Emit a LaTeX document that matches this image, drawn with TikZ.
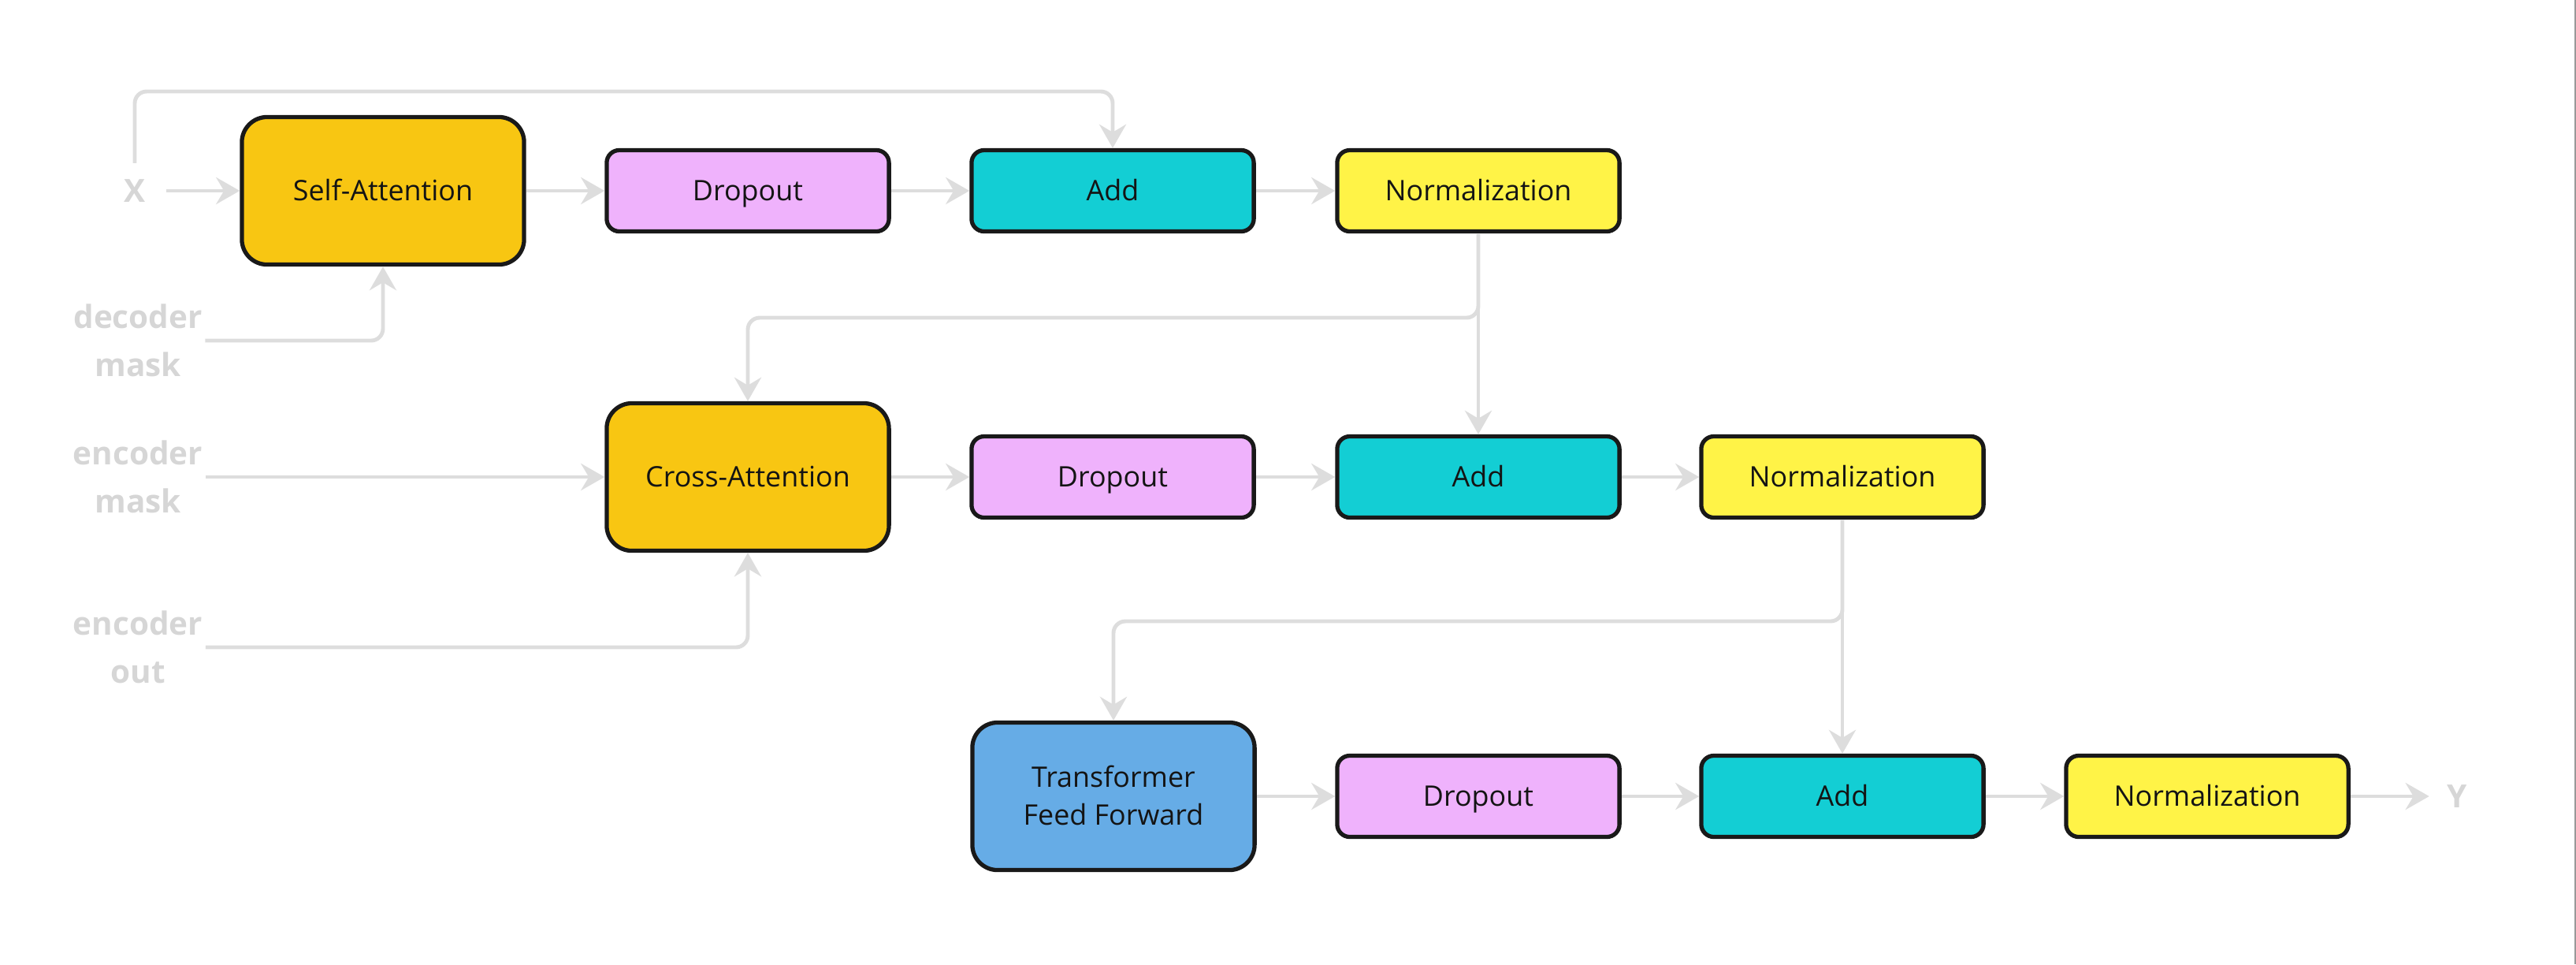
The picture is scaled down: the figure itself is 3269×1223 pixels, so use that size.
\documentclass[tikz,border=0pt]{standalone}
\usepackage{fontspec}
\setmainfont{Open Sans}
\usetikzlibrary{arrows.meta}
\definecolor{attn}{HTML}{F8C612}
\definecolor{drop}{HTML}{EFB2FC}
\definecolor{addc}{HTML}{13CED4}
\definecolor{norm}{HTML}{FFF347}
\definecolor{ffc}{HTML}{66ACE6}
\definecolor{lineg}{HTML}{DDDDDD}
\definecolor{labelg}{HTML}{D6D6D6}
\definecolor{edgeg}{HTML}{999999}
\begin{document}
\begin{tikzpicture}[x=0.01cm,y=-0.01cm,
  box/.style={draw=black!90, line width=1.5pt, text=black!92,
    font=\fontsize{10.2}{13.7}\selectfont, align=center, inner sep=0pt,
    text height=0.72em, text depth=0pt},
  bigbox/.style={box, minimum width=3.58cm, minimum height=1.87cm, rounded corners=0.32cm},
  smallbox/.style={box, minimum width=3.58cm, minimum height=1.03cm, rounded corners=0.16cm},
  conn/.style={draw=lineg, line width=1.4pt, rounded corners=0.15cm,
    -{Stealth[length=0.3cm,width=0.34cm,inset=0.1cm,fill=lineg]}},
  lbl/.style={text=labelg, font=\fontsize{11.5}{17.3}\selectfont\bfseries, align=center, inner sep=0pt}]
\useasboundingbox (0,0) rectangle (3269,1223);

% boxes
\node[bigbox, fill=attn] (SA) at (486,242) {Self-Attention};
\node[smallbox, fill=drop] (D1) at (949,242) {Dropout};
\node[smallbox, fill=addc] (A1) at (1412,242) {Add};
\node[smallbox, fill=norm] (N1) at (1876,242) {Normalization};

\node[bigbox, fill=attn] (CA) at (949,605) {Cross-Attention};
\node[smallbox, fill=drop] (D2) at (1412,605) {Dropout};
\node[smallbox, fill=addc] (A2) at (1876,605) {Add};
\node[smallbox, fill=norm] (N2) at (2338,605) {Normalization};

\node[bigbox, fill=ffc, text height=21pt] (FF) at (1413,1010) {Transformer\\Feed Forward};
\node[smallbox, fill=drop] (D3) at (1876,1010) {Dropout};
\node[smallbox, fill=addc] (A3) at (2338,1010) {Add};
\node[smallbox, fill=norm] (N3) at (2801,1010) {Normalization};

% labels
\node[lbl] (X) at (171,242) {X};
\node[lbl] (Y) at (3118,1010) {Y};
\node[lbl] (dm) at (175,432) {decoder\\mask};
\node[lbl] (em) at (175,605) {encoder\\mask};
\node[lbl] (eo) at (175,821) {encoder\\out};

% helper coordinates
\coordinate (k1) at (171,116);
\coordinate (s1) at (1876,403);
\coordinate (s2) at (2338,788);

% connectors row 1
\draw[conn] ([xshift=0.26cm]X.east) -- (SA.west);
\draw[conn] ([yshift=0.2cm]X.north) -- (k1) -| (A1.north);
\draw[conn] ([xshift=0.03cm]dm.east) -| (SA.south);
\draw[conn] (SA.east) -- (D1.west);
\draw[conn] (D1.east) -- (A1.west);
\draw[conn] (A1.east) -- (N1.west);

% split from N1
\draw[conn] (N1.south) -- (s1) -| (CA.north);
\draw[conn] (N1.south) -- (A2.north);

% row 2
\draw[conn] ([xshift=0.03cm]em.east) -- (CA.west);
\draw[conn] ([xshift=0.03cm]eo.east) -| (CA.south);
\draw[conn] (CA.east) -- (D2.west);
\draw[conn] (D2.east) -- (A2.west);
\draw[conn] (A2.east) -- (N2.west);

% split from N2
\draw[conn] (N2.south) -- (s2) -| (FF.north);
\draw[conn] (N2.south) -- (A3.north);

% row 3
\draw[conn] (FF.east) -- (D3.west);
\draw[conn] (D3.east) -- (A3.west);
\draw[conn] (A3.east) -- (N3.west);
\draw[conn] (N3.east) -- ([xshift=-0.22cm]Y.west);

% right frame edge
\draw[draw=edgeg, line width=0.02cm] (3268,0) -- (3268,1223);
\end{tikzpicture}
\end{document}
